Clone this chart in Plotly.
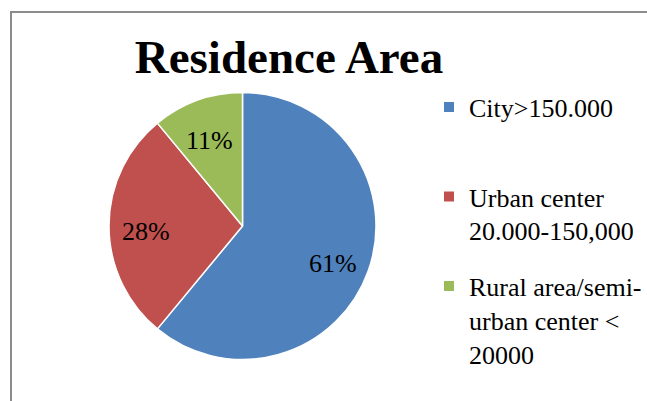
import math
import plotly.graph_objects as go

# Residence area shares (%)
categories = ["City>150.000", "Urban center<br>20.000-150,000",
              "Rural area/semi-<br>urban center <<br>20000"]
legend_labels = ["City>150.000<br>\u00a0", "Urban center<br>20.000-150,000",
                 "Rural area/semi-<br>urban center <<br>20000"]
shares = [61, 28, 11]
colors = ["#4F81BD", "#C0504D", "#9BBB59"]

SERIF = "Liberation Serif"
W, H = 647, 401

# pie placement in pixels (centre and radius)
CX, CY, R = 242.5, 226.0, 133.5
LABEL_RADIUS = 0.72

fig = go.Figure()

fig.add_trace(go.Pie(
    labels=categories,
    values=shares,
    sort=False,
    direction="clockwise",
    rotation=0,
    marker=dict(colors=colors, line=dict(color="white", width=1.5)),
    textinfo="none",
    showlegend=False,
    hoverinfo="label+percent",
    domain=dict(x=[(CX - R) / W, (CX + R) / W],
                y=[(H - CY - R) / H, (H - CY + R) / H]),
))

# percentage labels at each slice's mid-angle
total = sum(shares)
annotations = []
cum = 0.0
for v in shares:
    mid = (cum + v / 2) / total * 2 * math.pi
    cum += v
    px = CX + LABEL_RADIUS * R * math.sin(mid)
    py = CY - LABEL_RADIUS * R * math.cos(mid)
    annotations.append(dict(
        x=px / W, y=1 - py / H, xref="paper", yref="paper",
        text=f"{v / total * 100:.0f}%", showarrow=False,
        xanchor="center", yanchor="middle", yshift=-5,
        font=dict(family=SERIF, size=26, color="black"),
    ))

# Legend entries, one per category
for i, (name, col) in enumerate(zip(legend_labels, colors)):
    fig.add_trace(go.Scatter(
        x=[None], y=[None], mode="markers", name=name,
        legendgroup=f"g{i}",
        marker=dict(symbol="square", size=10, color=col),
    ))

fig.update_layout(
    width=W, height=H,
    margin=dict(l=0, r=0, t=0, b=0),
    paper_bgcolor="white",
    plot_bgcolor="white",
    xaxis=dict(visible=False),
    yaxis=dict(visible=False),
    title=dict(
        text="<b>Residence Area</b>",
        font=dict(family=SERIF, size=47, color="black"),
        x=289 / W, xanchor="center",
        y=1 - 57 / H, yanchor="middle",
    ),
    legend=dict(
        x=429 / W, xanchor="left",
        y=1 - 83.5 / H, yanchor="top",
        font=dict(family=SERIF, size=26, color="black"),
        valign="top",
        traceorder="grouped",
        tracegroupgap=19,
        bgcolor="rgba(0,0,0,0)",
    ),
    annotations=annotations,
    shapes=[dict(
        type="rect", xref="paper", yref="paper",
        x0=11 / W, y0=1 - 12 / H, x1=1.05, y1=-0.05,
        line=dict(color="#8c8c8c", width=2),
        fillcolor="rgba(0,0,0,0)", layer="below",
    )],
)

fig.write_html("out.html")
